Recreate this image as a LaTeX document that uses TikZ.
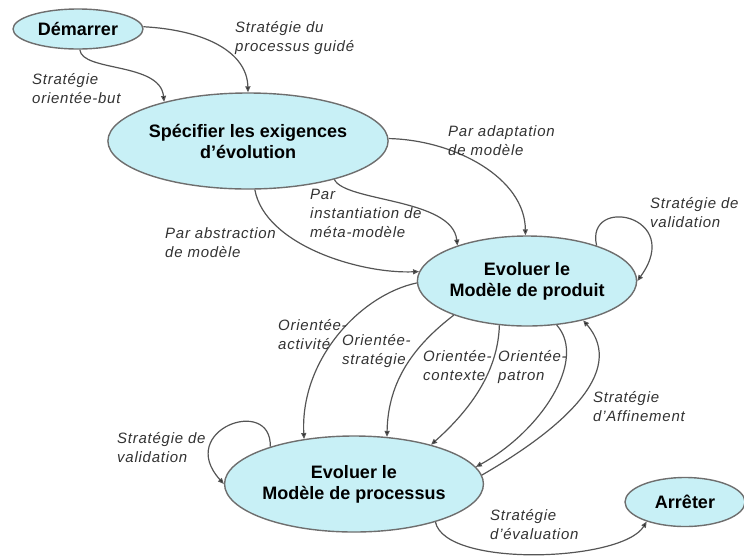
\documentclass[tikz,border=0pt]{standalone}
\usepackage{fontspec}
\setmainfont{Liberation Sans}
\newfontfamily\lblfont{Liberation Sans}[LetterSpace=5]
\usetikzlibrary{shapes.geometric,arrows.meta}
\definecolor{statefill}{RGB}{200,240,246}
\definecolor{stateborder}{RGB}{110,110,110}
\definecolor{edgecol}{RGB}{85,85,85}
\definecolor{lblcol}{RGB}{50,50,50}
\tikzset{
  state/.style={ellipse, draw=stateborder, fill=statefill, line width=1.4pt,
    inner sep=0pt, align=center, text=black,
    font=\fontsize{18}{21}\selectfont\bfseries},
  edge/.style={draw=edgecol, line width=1.2pt,
    -{Triangle[length=6pt,width=5pt,fill=black]}},
  lbl/.style={anchor=base west, align=left, inner sep=0pt, text=lblcol,
    font=\lblfont\fontsize{15}{19}\selectfont\itshape}
}
\begin{document}
\begin{tikzpicture}[x=1pt,y=-1pt]
\useasboundingbox (0,0) rectangle (744,558);

% states
\node[state, minimum width=130pt, minimum height=40pt] (dem) at (78,29) {Démarrer};
\node[state, minimum width=236pt, minimum height=96pt] (spec) at (248,141) {Spécifier les exigences\\d’évolution};
\node[state, minimum width=192pt, minimum height=90pt] (prod) at (527,281) {Evoluer le\\Modèle de produit};
\node[state, minimum width=228pt, minimum height=96pt] (proc) at (354,484) {Evoluer le\\Modèle de processus};
\node[state, minimum width=120pt, minimum height=49pt] (arr) at (685,502) {Arrêter};

% transitions
\draw[edge] (dem.-85) .. controls (82,72) and (160,62) .. (spec.155);
\draw[edge] (dem.2) .. controls (205,30) and (247,52) .. (spec.90);
\draw[edge] (spec.1) .. controls (455,140) and (525,178) .. (prod.92);
\draw[edge] (spec.-24) .. controls (345,202) and (452,198) .. (prod.153);
\draw[edge] (spec.-82) .. controls (265,245) and (360,274) .. (prod.175);
\draw[edge] (prod.27) .. controls (585,195) and (685,215) .. (prod.0);
\draw[edge] (prod.181) .. controls (360,295) and (300,360) .. (proc.138);
\draw[edge] (prod.205) .. controls (415,345) and (388,380) .. (proc.55);
\draw[edge] (prod.238) .. controls (498,372) and (470,410) .. (proc.27);
\draw[edge] (prod.-56) .. controls (588,360) and (540,432) .. (proc.8);
\draw[edge] (proc.4) .. controls (560,430) and (628,372) .. (prod.-35);
\draw[edge] (proc.156) .. controls (272,395) and (175,430) .. (proc.180);
\draw[edge] (proc.-25) .. controls (445,568) and (622,562) .. (arr.207);

% strategy labels (anchored at the baseline of their last line)
\node[lbl] (l1) at (32,103) {Stratégie\\orientée-but};
\node[lbl] (l2) at (235,51) {Stratégie du\\processus guidé};
\node[lbl] (l3) at (448,155) {Par adaptation\\de modèle};
\node[lbl] (l4) at (310,237) {Par\\instantiation de\\méta-modèle};
\node[lbl] (l5) at (165,257) {Par abstraction\\de modèle};
\node[lbl] (l6) at (650,227) {Stratégie de\\validation};
\node[lbl] (l7) at (278,349) {Orientée-\\activité};
\node[lbl] (l8) at (342,364) {Orientée-\\stratégie};
\node[lbl] (l9) at (423,380) {Orientée-\\contexte};
\node[lbl] (l10) at (498,380) {Orientée-\\patron};
\node[lbl] (l11) at (593,421) {Stratégie\\d’Affinement};
\node[lbl] (l12) at (117,462) {Stratégie de\\validation};
\node[lbl] (l13) at (490,539) {Stratégie\\d’évaluation};
\end{tikzpicture}
\end{document}
